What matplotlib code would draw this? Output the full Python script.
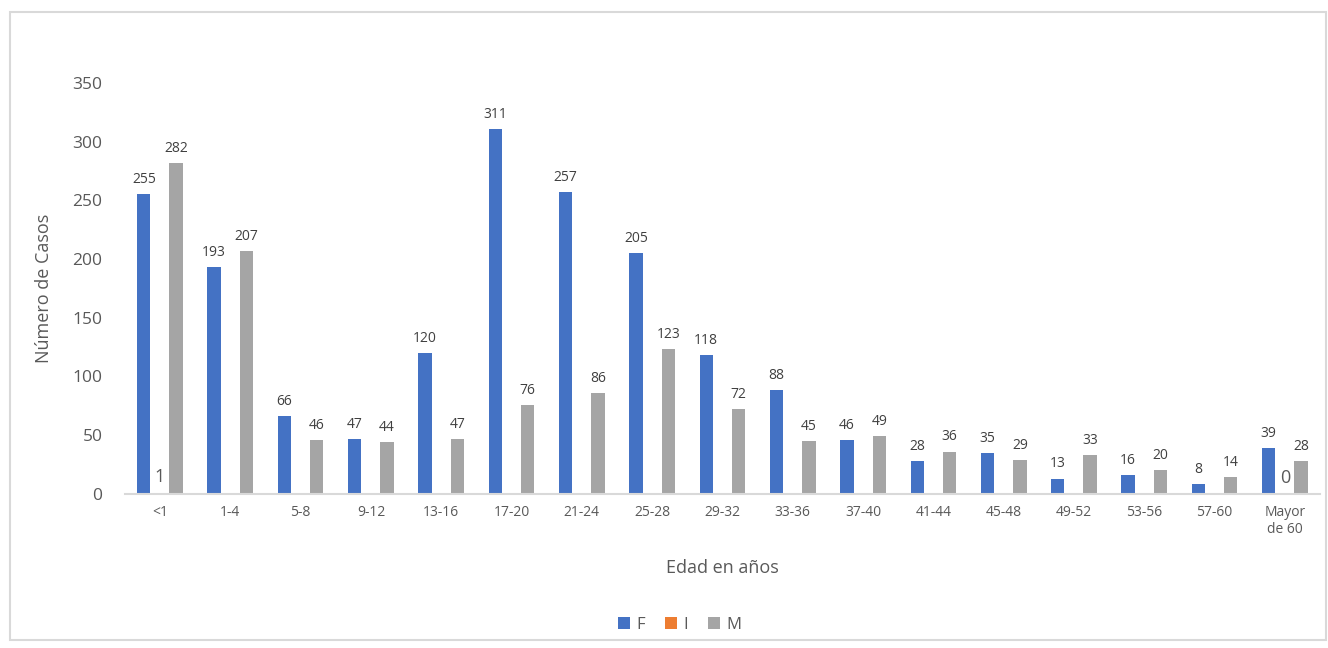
import matplotlib.pyplot as plt
import numpy as np
from matplotlib.patches import Rectangle

plt.rcParams['font.family'] = ['Open Sans', 'DejaVu Sans']

categories = ['<1', '1-4', '5-8', '9-12', '13-16', '17-20', '21-24', '25-28', '29-32',
              '33-36', '37-40', '41-44', '45-48', '49-52', '53-56', '57-60', 'Mayor\nde 60']
f_vals = [255, 193, 66, 47, 120, 311, 257, 205, 118, 88, 46, 28, 35, 13, 16, 8, 39]
i_vals = [1, None, None, None, None, None, None, None, None, None, None, None, None, None, None, None, 0]
m_vals = [282, 207, 46, 44, 47, 76, 86, 123, 72, 45, 49, 36, 29, 33, 20, 14, 28]

blue = '#4472C4'
orange = '#ED7D31'
grey = '#A5A5A5'
txt = '#595959'

fig = plt.figure(figsize=(13.28, 6.48), dpi=100)
fig.patches.append(Rectangle((10 / 1328, 1 - 640 / 648), 1316 / 1328, 628 / 648,
                             transform=fig.transFigure, fill=False, edgecolor='#d9d9d9', lw=1.5))
ax = fig.add_axes([0.094, 0.238, 0.900, 0.634])

x = np.arange(len(categories))
w = 0.19
off = 0.23

ax.bar(x - off, f_vals, w, color=blue, label='F')
xi = [xx for xx, v in zip(x, i_vals) if v is not None]
vi = [v for v in i_vals if v is not None]
ax.bar(xi, vi, w, color=orange, label='I')
ax.bar(x + off, m_vals, w, color=grey, label='M')

for xx, v in zip(x, f_vals):
    ax.text(xx - off, v + 6, str(v), ha='center', va='bottom', fontsize=10, color='#404040')
for xx, v in zip(x, m_vals):
    ax.text(xx + off, v + 6, str(v), ha='center', va='bottom', fontsize=10, color='#404040')
for xx, v in zip(xi, vi):
    ax.text(xx, v + 6, str(v), ha='center', va='bottom', fontsize=13, color=txt)

ax.set_xlim(-0.5, len(categories) - 0.5)
ax.set_ylim(0, 350)
ax.set_yticks(range(0, 351, 50))
ax.set_xticks(x)
ax.set_xticklabels(categories, fontsize=10, color=txt)
ax.tick_params(axis='y', labelsize=12.5, labelcolor=txt, length=0, pad=16)
ax.tick_params(axis='x', length=0, pad=8)
for s in ['top', 'right', 'left']:
    ax.spines[s].set_visible(False)
ax.spines['bottom'].set_color('#d9d9d9')
ax.spines['bottom'].set_linewidth(1.5)

ax.set_xlabel('Edad en años', fontsize=13, color=txt, labelpad=16)
ax.set_ylabel('Número de Casos', fontsize=13, color=txt, labelpad=14)

ax.legend(loc='center', ncol=3, frameon=False,
          fontsize=12, handlelength=0.7, handleheight=0.7, columnspacing=1.2, handletextpad=0.4,
          labelcolor=txt, bbox_to_anchor=(680 / 1328, 1 - 625 / 648),
          bbox_transform=fig.transFigure)

plt.savefig('out.png', dpi=100)
